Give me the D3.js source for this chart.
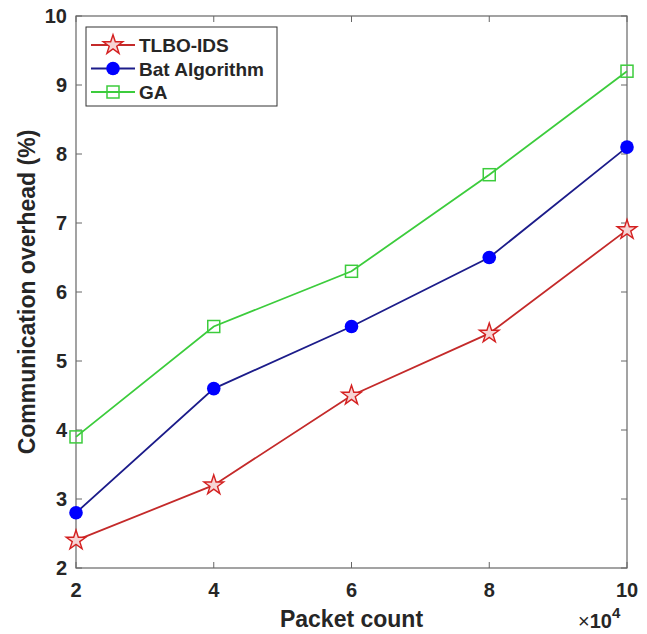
<!DOCTYPE html>
<html>
<head>
<meta charset="utf-8">
<script src="https://cdn.jsdelivr.net/npm/d3@7"></script>
<style>
body { margin: 0; background: #fff; }
svg text { font-family: "Liberation Sans", Arial, sans-serif; font-weight: bold; fill: #262626; }
</style>
</head>
<body>
<svg width="647" height="634"></svg>
<script>
// values
var packets = [2, 4, 6, 8, 10];          // x 10^4
var tlbo = [2.4, 3.2, 4.5, 5.4, 6.9];
var bat = [2.8, 4.6, 5.5, 6.5, 8.1];
var ga = [3.9, 5.5, 6.3, 7.7, 9.2];
var xTicks = [2, 4, 6, 8, 10];
var yTicks = [2, 3, 4, 5, 6, 7, 8, 9, 10];
var seriesNames = ["TLBO-IDS", "Bat Algorithm", "GA"];

var margin = ({top: 16, right: 20, bottom: 66, left: 76});
var width = 647, height = 634;

var svg = d3.select("svg");

var x = d3.scaleLinear().domain([2, 10]).range([margin.left, width - margin.right]);
var y = d3.scaleLinear().domain([2, 10]).range([height - margin.bottom, margin.top]);

var series = [
  {name: seriesNames[0], vals: tlbo, line: "#c42a2a", marker: "star"},
  {name: seriesNames[1], vals: bat, line: "#1c1c8a", marker: "circle"},
  {name: seriesNames[2], vals: ga, line: "#3ccc3c", marker: "square"}
];

var axisColor = "#666";

// box
svg.append("rect")
  .attr("x", x(2)).attr("y", y(10))
  .attr("width", x(10) - x(2)).attr("height", y(2) - y(10))
  .attr("fill", "none").attr("stroke", axisColor).attr("stroke-width", 1.2);

// ticks inward on all four sides
var tk = 6;
xTicks.forEach(function(t) {
  svg.append("line").attr("x1", x(t)).attr("x2", x(t)).attr("y1", y(2)).attr("y2", y(2) - tk).attr("stroke", axisColor);
  svg.append("line").attr("x1", x(t)).attr("x2", x(t)).attr("y1", y(10)).attr("y2", y(10) + tk).attr("stroke", axisColor);
  svg.append("text").attr("x", x(t)).attr("y", y(2) + 29)
    .attr("text-anchor", "middle").attr("font-size", 20).text(t);
});
yTicks.forEach(function(t) {
  svg.append("line").attr("x1", x(2)).attr("x2", x(2) + tk).attr("y1", y(t)).attr("y2", y(t)).attr("stroke", axisColor);
  svg.append("line").attr("x1", x(10)).attr("x2", x(10) - tk).attr("y1", y(t)).attr("y2", y(t)).attr("stroke", axisColor);
  svg.append("text").attr("x", x(2) - 9).attr("y", y(t) + 7)
    .attr("text-anchor", "end").attr("font-size", 20).text(t);
});

// axis labels
svg.append("text").attr("x", (x(2) + x(10)) / 2).attr("y", 627)
  .attr("text-anchor", "middle").attr("font-size", 23).text("Packet count");
svg.append("text")
  .attr("transform", "translate(35," + ((y(2) + y(10)) / 2) + ") rotate(-90)")
  .attr("text-anchor", "middle").attr("font-size", 23).text("Communication overhead (%)");

var expo = svg.append("text").attr("x", 578).attr("y", 628).attr("font-size", 20);
expo.append("tspan").style("font-weight", "normal").text("\u00d7");
expo.append("tspan").text("10");
expo.append("tspan").attr("dy", -10).attr("font-size", 15).text("4");

function drawMarker(g, type, cx, cy) {
  if (type === "star") {
    g.append("path").attr("d", d3.symbol(d3.symbolStar, 120)())
      .attr("transform", "translate(" + cx + "," + cy + ")")
      .attr("fill", "#f6d4d4").attr("stroke", "#d42020").attr("stroke-width", 1.4);
  } else if (type === "circle") {
    g.append("circle").attr("cx", cx).attr("cy", cy).attr("r", 6.8).attr("fill", "#0000ff");
  } else {
    g.append("rect").attr("x", cx - 6).attr("y", cy - 6).attr("width", 12).attr("height", 12)
      .attr("fill", "none").attr("stroke", "#3ccc3c").attr("stroke-width", 1.5);
  }
}

var line = d3.line().x((d, i) => x(packets[i])).y(d => y(d));

series.forEach(function(s) {
  var g = svg.append("g");
  g.append("path").attr("d", line(s.vals))
    .attr("fill", "none").attr("stroke", s.line).attr("stroke-width", 1.8);
  s.vals.forEach(function(v, i) { drawMarker(g, s.marker, x(packets[i]), y(v)); });
});

// legend
var lg = svg.append("g");
lg.append("rect").attr("x", 86).attr("y", 27).attr("width", 191).attr("height", 79)
  .attr("fill", "#fff").attr("stroke", "#333").attr("stroke-width", 1);
series.forEach(function(s, i) {
  var ly = 45 + i * 23.5;
  lg.append("line").attr("x1", 91).attr("x2", 135).attr("y1", ly).attr("y2", ly)
    .attr("stroke", s.line).attr("stroke-width", 1.8);
  drawMarker(lg, s.marker, 113, ly);
  lg.append("text").attr("x", 139).attr("y", ly + 7).attr("font-size", 19).text(s.name);
});
</script>
</body>
</html>
